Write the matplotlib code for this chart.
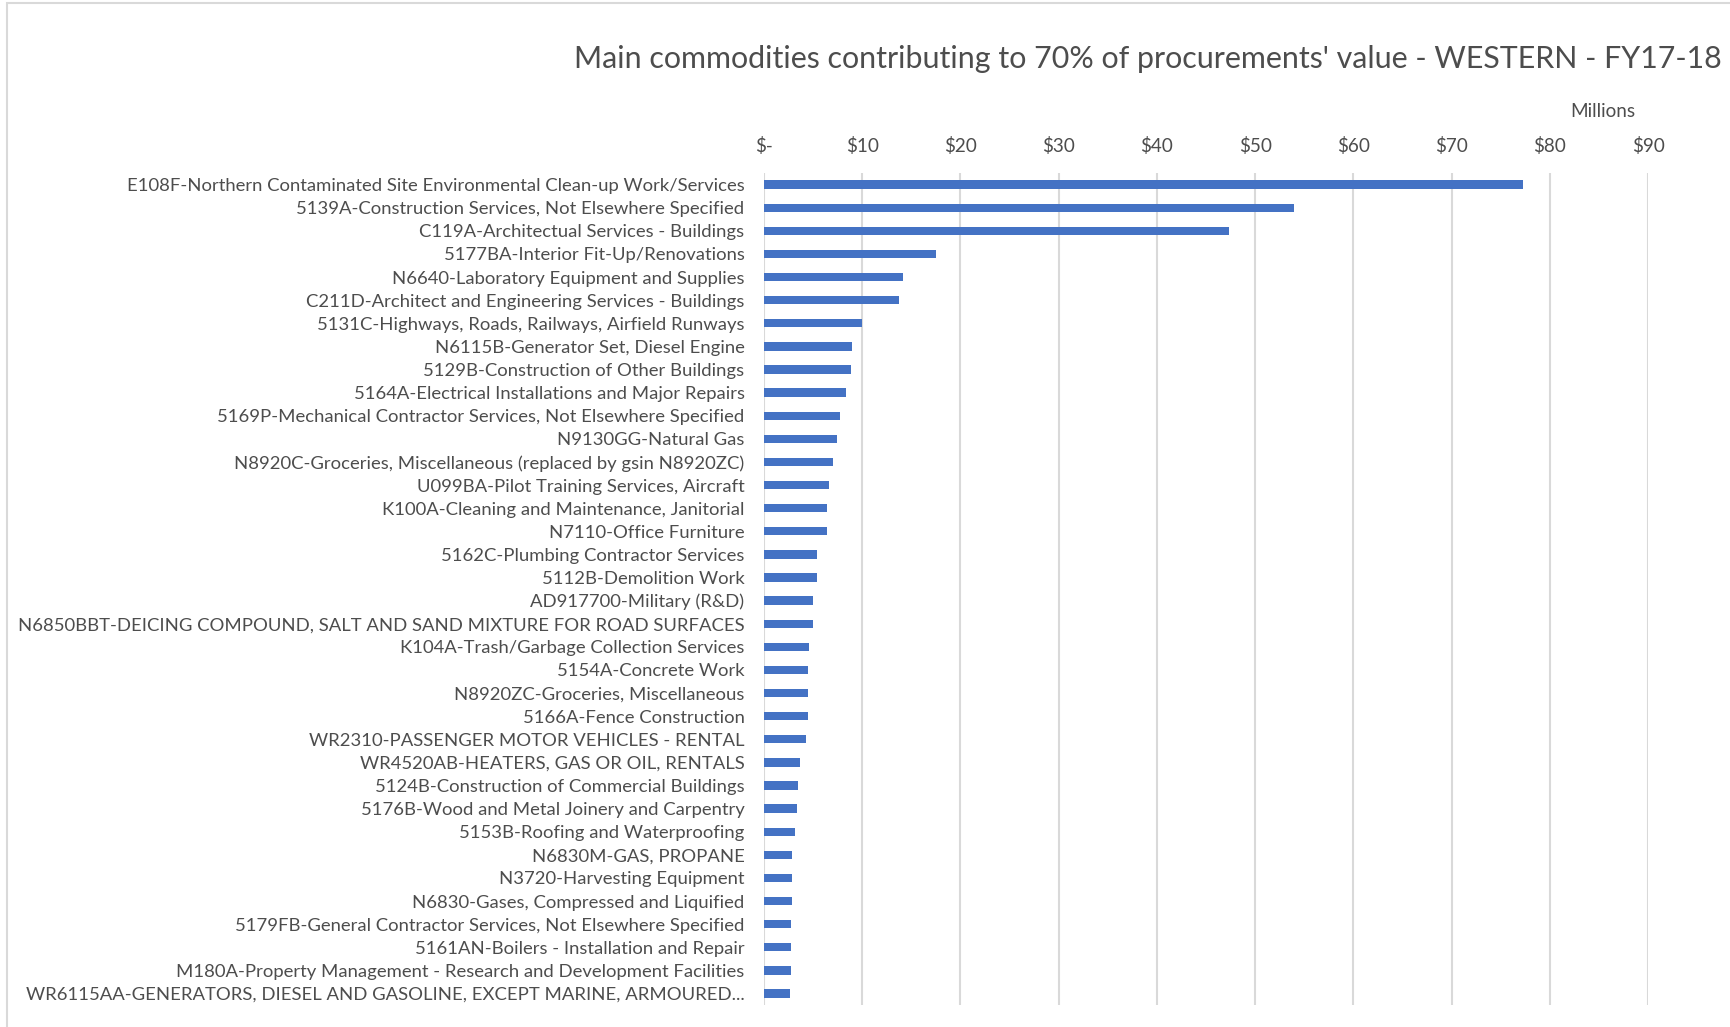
import matplotlib.pyplot as plt
from matplotlib.patches import Rectangle
from matplotlib.ticker import FuncFormatter

plt.rcParams["font.family"] = ["Lato", "DejaVu Sans"]

commodities = [
    "E108F-Northern Contaminated Site Environmental Clean-up Work/Services",
    "5139A-Construction Services, Not Elsewhere Specified",
    "C119A-Architectual Services - Buildings",
    "5177BA-Interior Fit-Up/Renovations",
    "N6640-Laboratory Equipment and Supplies",
    "C211D-Architect and Engineering Services - Buildings",
    "5131C-Highways, Roads, Railways, Airfield Runways",
    "N6115B-Generator Set, Diesel Engine",
    "5129B-Construction of Other Buildings",
    "5164A-Electrical Installations and Major Repairs",
    "5169P-Mechanical Contractor Services, Not Elsewhere Specified",
    "N9130GG-Natural Gas",
    "N8920C-Groceries, Miscellaneous (replaced by gsin N8920ZC)",
    "U099BA-Pilot Training Services, Aircraft",
    "K100A-Cleaning and Maintenance, Janitorial",
    "N7110-Office Furniture",
    "5162C-Plumbing Contractor Services",
    "5112B-Demolition Work",
    "AD917700-Military (R&D)",
    "N6850BBT-DEICING COMPOUND, SALT AND SAND MIXTURE FOR ROAD SURFACES",
    "K104A-Trash/Garbage Collection Services",
    "5154A-Concrete Work",
    "N8920ZC-Groceries, Miscellaneous",
    "5166A-Fence Construction",
    "WR2310-PASSENGER MOTOR VEHICLES - RENTAL",
    "WR4520AB-HEATERS, GAS OR OIL, RENTALS",
    "5124B-Construction of Commercial Buildings",
    "5176B-Wood and Metal Joinery and Carpentry",
    "5153B-Roofing and Waterproofing",
    "N6830M-GAS, PROPANE",
    "N3720-Harvesting Equipment",
    "N6830-Gases, Compressed and Liquified",
    "5179FB-General Contractor Services, Not Elsewhere Specified",
    "5161AN-Boilers - Installation and Repair",
    "M180A-Property Management - Research and Development Facilities",
    "WR6115AA-GENERATORS, DIESEL AND GASOLINE, EXCEPT MARINE, ARMOURED...",
]

# procurement value, millions of dollars
value_millions = [
    77.3, 54.0, 47.3, 17.5, 14.2, 13.7, 10.0, 9.0, 8.9, 8.4, 7.7, 7.4,
    7.0, 6.6, 6.4, 6.4, 5.4, 5.4, 5.0, 5.0, 4.6, 4.5, 4.5, 4.5, 4.3, 3.7,
    3.5, 3.4, 3.2, 2.9, 2.9, 2.9, 2.8, 2.8, 2.8, 2.7,
]

x_ticks = [0, 10, 20, 30, 40, 50, 60, 70, 80, 90]

text_color = "#4d4d4d"
bar_color = "#4472C4"

fig = plt.figure(figsize=(17.3, 10.27), dpi=100)
ax = fig.add_axes([0.4416, 0.0214, 0.5110, 0.8101])

positions = list(range(len(commodities)))
ax.barh(positions, value_millions, height=0.36, color=bar_color, zorder=3)

ax.set_ylim(len(commodities) - 0.5, -0.5)
ax.set_yticks(positions)
ax.set_yticklabels(commodities)

ax.set_xlim(0, 90)
ax.set_xticks(x_ticks)
ax.xaxis.set_major_formatter(FuncFormatter(lambda v, p: "$-" if v == 0 else f"${v:.0f}"))
ax.xaxis.tick_top()
ax.grid(axis="x", color="#d9d9d9", linewidth=1.5, zorder=0)

for side in ["top", "bottom", "left", "right"]:
    ax.spines[side].set_visible(False)

ax.tick_params(axis="y", length=0, pad=14, labelsize=13.3, labelcolor=text_color)
ax.tick_params(axis="x", length=0, pad=13, labelsize=13.6, labelcolor=text_color)

fig.text(0.9265, 0.891, "Millions", ha="center", va="center",
         fontsize=13.6, color=text_color)
fig.text(0.9955, 0.943, "Main commodities contributing to 70% of procurements' value - WESTERN - FY17-18",
         ha="right", va="center", fontsize=21.9, color=text_color)

# chart area border
fig.patches.append(Rectangle((0.004, -0.01), 1.1, 1.007, transform=fig.transFigure,
                             fill=False, edgecolor="#d9d9d9", linewidth=1.5))

fig.savefig("out.png", dpi=100)
